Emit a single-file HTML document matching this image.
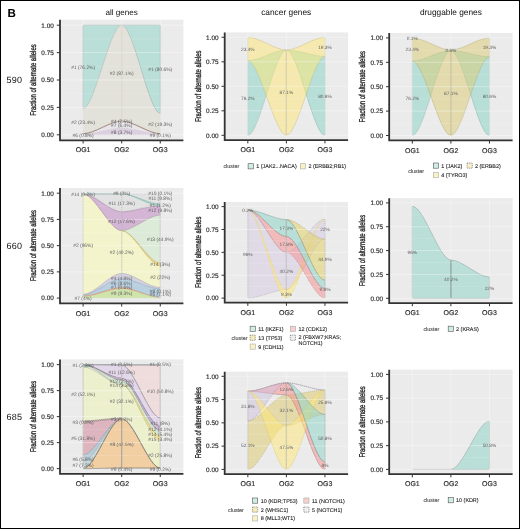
<!DOCTYPE html>
<html><head><meta charset="utf-8"><style>
html,body{margin:0;padding:0;background:#fff;}
svg{display:block;font-family:"Liberation Sans", sans-serif;text-rendering:geometricPrecision;will-change:transform;}
</style></head><body>
<svg width="520" height="529" viewBox="0 0 520 529">
<rect x="0" y="0" width="520" height="529" fill="#fff"/>
<text x="7.5" y="17.1" font-size="11.6" font-weight="bold" fill="#000">B</text>
<text x="121.7" y="14.5" font-size="8.1" text-anchor="middle" fill="#111">all genes</text>
<text x="286.2" y="14.9" font-size="8.35" text-anchor="middle" fill="#111">cancer genes</text>
<text x="450.9" y="14.7" font-size="8.3" text-anchor="middle" fill="#111">druggable genes</text>
<text x="6.4" y="82.85" font-size="9" fill="#111" letter-spacing="0.3">590</text>
<text x="6.4" y="248.8" font-size="9" fill="#111" letter-spacing="0.3">660</text>
<text x="6.4" y="419.6" font-size="9" fill="#111" letter-spacing="0.3">685</text>
<rect x="60" y="19.72" width="123.4" height="120.56" fill="#EBEBEB"/>
<path d="M83.14,25.2 C94.71,25.2 110.13,25.2 121.7,25.2 L121.7,25.2 C110.13,25.2 94.71,108.72 83.14,108.72 Z" fill="#BADFD8" stroke="#7E9A94" stroke-width="0.5"/>
<path d="M121.7,25.2 C133.27,25.2 148.69,25.2 160.26,25.2 L160.26,113.54 C148.69,113.54 133.27,25.2 121.7,25.2 Z" fill="#BADFD8" stroke="#7E9A94" stroke-width="0.5"/>
<path d="M83.14,108.72 C94.71,108.72 110.13,25.2 121.7,25.2 L121.7,120.55 C110.13,120.55 94.71,133.7 83.14,133.7 Z" fill="#E3E2DA" stroke="#C8C6BE" stroke-width="0.4"/>
<path d="M121.7,25.2 C133.27,25.2 148.69,113.54 160.26,113.54 L160.26,133.7 C148.69,133.7 133.27,120.55 121.7,120.55 Z" fill="#E3E2DA" stroke="#C8C6BE" stroke-width="0.4"/>
<path d="M83.14,133.7 C94.71,133.7 110.13,121.1 121.7,121.1 L121.7,128.22 C110.13,128.22 94.71,134.14 83.14,134.14 Z" fill="#E8E5EA"/>
<path d="M121.7,121.1 C133.27,121.1 148.69,133.7 160.26,133.7 L160.26,134.14 C148.69,134.14 133.27,128.22 121.7,128.22 Z" fill="#E8E5EA"/>
<path d="M83.14,134.14 C94.71,134.14 110.13,128.22 121.7,128.22 L121.7,134.8 C110.13,134.8 94.71,134.8 83.14,134.8 Z" fill="#DCD0E0" stroke="#B9A9BD" stroke-width="0.4" stroke-dasharray="1,1"/>
<path d="M121.7,128.22 C133.27,128.22 148.69,134.14 160.26,134.14 L160.26,134.8 C148.69,134.8 133.27,134.8 121.7,134.8 Z" fill="#DCD0E0" stroke="#B9A9BD" stroke-width="0.4" stroke-dasharray="1,1"/>
<path d="M83.14,133.7 C94.71,133.7 110.13,121.1 121.7,121.1" fill="none" stroke="#8E7565" stroke-width="0.8"/>
<path d="M121.7,121.1 C133.27,121.1 148.69,133.7 160.26,133.7" fill="none" stroke="#8E7565" stroke-width="0.8"/>
<line x1="121.7" x2="121.7" y1="134.8" y2="25.2" stroke="#C2C2BC" stroke-width="0.6"/>
<line x1="60" x2="183.4" y1="121.1" y2="121.1" stroke="#FFF" stroke-opacity="0.25" stroke-width="0.5"/>
<line x1="60" x2="183.4" y1="93.7" y2="93.7" stroke="#FFF" stroke-opacity="0.25" stroke-width="0.5"/>
<line x1="60" x2="183.4" y1="66.3" y2="66.3" stroke="#FFF" stroke-opacity="0.25" stroke-width="0.5"/>
<line x1="60" x2="183.4" y1="38.9" y2="38.9" stroke="#FFF" stroke-opacity="0.25" stroke-width="0.5"/>
<line x1="60" x2="183.4" y1="134.8" y2="134.8" stroke="#FFF" stroke-opacity="0.45" stroke-width="0.8"/>
<line x1="60" x2="183.4" y1="107.4" y2="107.4" stroke="#FFF" stroke-opacity="0.45" stroke-width="0.8"/>
<line x1="60" x2="183.4" y1="80" y2="80" stroke="#FFF" stroke-opacity="0.45" stroke-width="0.8"/>
<line x1="60" x2="183.4" y1="52.6" y2="52.6" stroke="#FFF" stroke-opacity="0.45" stroke-width="0.8"/>
<line x1="60" x2="183.4" y1="25.2" y2="25.2" stroke="#FFF" stroke-opacity="0.45" stroke-width="0.8"/>
<line x1="83.14" x2="83.14" y1="19.72" y2="140.28" stroke="#FFF" stroke-opacity="0.45" stroke-width="0.8"/>
<line x1="121.7" x2="121.7" y1="19.72" y2="140.28" stroke="#FFF" stroke-opacity="0.45" stroke-width="0.8"/>
<line x1="160.26" x2="160.26" y1="19.72" y2="140.28" stroke="#FFF" stroke-opacity="0.45" stroke-width="0.8"/>
<text x="83.14" y="68.61" font-size="4.9" text-anchor="middle" fill="#616161">#1 (76.2%)</text>
<text x="83.14" y="123.96" font-size="4.9" text-anchor="middle" fill="#616161">#2 (23.4%)</text>
<text x="83.14" y="136.56" font-size="4.9" text-anchor="middle" fill="#616161">#6 (0.8%)</text>
<text x="121.7" y="74.64" font-size="4.9" text-anchor="middle" fill="#616161">#2 (87.1%)</text>
<text x="121.7" y="122.86" font-size="4.9" text-anchor="middle" fill="#616161">#4 (2.5%)</text>
<text x="121.7" y="127.25" font-size="4.9" text-anchor="middle" fill="#616161">#7 (6.4%)</text>
<text x="121.7" y="133.82" font-size="4.9" text-anchor="middle" fill="#616161">#8 (3.7%)</text>
<text x="160.26" y="71.35" font-size="4.9" text-anchor="middle" fill="#616161">#1 (80.6%)</text>
<text x="160.26" y="125.93" font-size="4.9" text-anchor="middle" fill="#616161">#2 (19.3%)</text>
<text x="160.26" y="136.56" font-size="4.9" text-anchor="middle" fill="#616161">#9 (0.1%)</text>
<path d="M60,19.72 V140.28 H183.4" fill="none" stroke="#333" stroke-width="1.8"/>
<line x1="56.8" x2="60" y1="134.8" y2="134.8" stroke="#333" stroke-width="1"/>
<text x="53.8" y="137.1" font-size="6.4" text-anchor="end" fill="#333" stroke="#333" stroke-width="0.18">0.00</text>
<line x1="56.8" x2="60" y1="107.4" y2="107.4" stroke="#333" stroke-width="1"/>
<text x="53.8" y="109.7" font-size="6.4" text-anchor="end" fill="#333" stroke="#333" stroke-width="0.18">0.25</text>
<line x1="56.8" x2="60" y1="80" y2="80" stroke="#333" stroke-width="1"/>
<text x="53.8" y="82.3" font-size="6.4" text-anchor="end" fill="#333" stroke="#333" stroke-width="0.18">0.50</text>
<line x1="56.8" x2="60" y1="52.6" y2="52.6" stroke="#333" stroke-width="1"/>
<text x="53.8" y="54.9" font-size="6.4" text-anchor="end" fill="#333" stroke="#333" stroke-width="0.18">0.75</text>
<line x1="56.8" x2="60" y1="25.2" y2="25.2" stroke="#333" stroke-width="1"/>
<text x="53.8" y="27.5" font-size="6.4" text-anchor="end" fill="#333" stroke="#333" stroke-width="0.18">1.00</text>
<line x1="83.14" x2="83.14" y1="140.28" y2="143.48" stroke="#333" stroke-width="1"/>
<text x="83.14" y="152.48" font-size="7" text-anchor="middle" fill="#2A2A2A" stroke="#2A2A2A" stroke-width="0.15">OG1</text>
<line x1="121.7" x2="121.7" y1="140.28" y2="143.48" stroke="#333" stroke-width="1"/>
<text x="121.7" y="152.48" font-size="7" text-anchor="middle" fill="#2A2A2A" stroke="#2A2A2A" stroke-width="0.15">OG2</text>
<line x1="160.26" x2="160.26" y1="140.28" y2="143.48" stroke="#333" stroke-width="1"/>
<text x="160.26" y="152.48" font-size="7" text-anchor="middle" fill="#2A2A2A" stroke="#2A2A2A" stroke-width="0.15">OG3</text>
<text transform="translate(35.9,80) rotate(-90) scale(0.70,1)" font-size="8.5" text-anchor="middle" fill="#1A1A1A" stroke="#1A1A1A" stroke-width="0.3">Fraction of alternate alleles</text>
<rect x="60" y="187.95" width="123.4" height="115.39" fill="#EBEBEB"/>
<path d="M83.14,194.04 C94.71,194.04 110.13,230.65 121.7,230.65 L121.7,273.45 C110.13,273.45 94.71,294.43 83.14,294.43 Z" fill="#F3F4CB" stroke="#C9C7A0" stroke-width="0.4"/>
<path d="M121.7,230.65 C133.27,230.65 148.69,265.58 160.26,265.58 L160.26,287.61 C148.69,287.61 133.27,273.45 121.7,273.45 Z" fill="#F3F4CB" stroke="#C9C7A0" stroke-width="0.4"/>
<path d="M83.14,194.04 C94.71,194.04 110.13,194.04 121.7,194.04 L121.7,211.87 C110.13,211.87 94.71,194.04 83.14,194.04 Z" fill="#E2E2E2" stroke="#A8A8A8" stroke-width="0.4" stroke-dasharray="1.2,0.8"/>
<path d="M121.7,194.04 C133.27,194.04 148.69,193.72 160.26,193.72 L160.26,204 C148.69,204 133.27,211.87 121.7,211.87 Z" fill="#E2E2E2" stroke="#A8A8A8" stroke-width="0.4" stroke-dasharray="1.2,0.8"/>
<path d="M83.14,194.04 C94.71,194.04 110.13,211.87 121.7,211.87 L121.7,230.65 C110.13,230.65 94.71,194.04 83.14,194.04 Z" fill="#D4B5D5" stroke="#8F7490" stroke-width="0.4"/>
<path d="M121.7,211.87 C133.27,211.87 148.69,205.79 160.26,205.79 L160.26,215.23 C148.69,215.23 133.27,230.65 121.7,230.65 Z" fill="#D4B5D5" stroke="#8F7490" stroke-width="0.4"/>
<path d="M121.7,230.65 C133.27,230.65 148.69,215.23 160.26,215.23 L160.26,262.96 C148.69,262.96 133.27,230.65 121.7,230.65 Z" fill="#DCEBD8" stroke="#A9B8A5" stroke-width="0.4"/>
<path d="M121.7,230.65 C133.27,230.65 148.69,262.96 160.26,262.96 L160.26,265.58 C148.69,265.58 133.27,230.65 121.7,230.65 Z" fill="#EBD58A" stroke="#C8B060" stroke-width="0.4"/>
<path d="M83.14,193.72 C94.71,193.72 110.13,193.72 121.7,193.72 L121.7,193.93 C110.13,193.93 94.71,193.93 83.14,193.93 Z" fill="#A8D5CC" stroke="#7FA9A1" stroke-width="0.4"/>
<path d="M121.7,193.72 C133.27,193.72 148.69,204 160.26,204 L160.26,205.79 C148.69,205.79 133.27,193.93 121.7,193.93 Z" fill="#A8D5CC" stroke="#7FA9A1" stroke-width="0.4"/>
<path d="M83.14,294.43 C94.71,294.43 110.13,273.45 121.7,273.45 L121.7,278.8 C110.13,278.8 94.71,294.95 83.14,294.95 Z" fill="#D4D2E2" stroke="#A09CB5" stroke-width="0.4"/>
<path d="M121.7,273.45 C133.27,273.45 148.69,287.61 160.26,287.61 L160.26,288.97 C148.69,288.97 133.27,278.8 121.7,278.8 Z" fill="#D4D2E2" stroke="#A09CB5" stroke-width="0.4"/>
<path d="M83.14,294.95 C94.71,294.95 110.13,278.8 121.7,278.8 L121.7,287.61 C110.13,287.61 94.71,296 83.14,296 Z" fill="#B8D0E0" stroke="#8CA6B8" stroke-width="0.4"/>
<path d="M121.7,278.8 C133.27,278.8 148.69,288.97 160.26,288.97 L160.26,297.47 C148.69,297.47 133.27,287.61 121.7,287.61 Z" fill="#B8D0E0" stroke="#8CA6B8" stroke-width="0.4"/>
<path d="M83.14,296 C94.71,296 110.13,287.61 121.7,287.61 L121.7,288.66 C110.13,288.66 94.71,296.53 83.14,296.53 Z" fill="#F0B79E" stroke="#D09070" stroke-width="0.4"/>
<path d="M121.7,287.61 C133.27,287.61 148.69,297.47 160.26,297.47 L160.26,297.58 C148.69,297.58 133.27,288.66 121.7,288.66 Z" fill="#F0B79E" stroke="#D09070" stroke-width="0.4"/>
<path d="M83.14,296.53 C94.71,296.53 110.13,288.66 121.7,288.66 L121.7,298.1 C110.13,298.1 94.71,298.1 83.14,298.1 Z" fill="#CFE4AA" stroke="#9FB97A" stroke-width="0.4" stroke-dasharray="1,1"/>
<path d="M121.7,288.66 C133.27,288.66 148.69,297.58 160.26,297.58 L160.26,298.1 C148.69,298.1 133.27,298.1 121.7,298.1 Z" fill="#CFE4AA" stroke="#9FB97A" stroke-width="0.4" stroke-dasharray="1,1"/>
<line x1="121.7" x2="121.7" y1="298.1" y2="193.72" stroke="#9A9A9A" stroke-width="0.5" stroke-dasharray="1.5,1"/>
<line x1="160.26" x2="160.26" y1="298.1" y2="193.72" stroke="#9A9A9A" stroke-width="0.5" stroke-dasharray="1.5,1"/>
<line x1="83.14" x2="83.14" y1="298.1" y2="194.04" stroke="#BBBB99" stroke-width="0.5" stroke-dasharray="1.5,1"/>
<line x1="60" x2="183.4" y1="284.99" y2="284.99" stroke="#FFF" stroke-opacity="0.25" stroke-width="0.5"/>
<line x1="60" x2="183.4" y1="258.76" y2="258.76" stroke="#FFF" stroke-opacity="0.25" stroke-width="0.5"/>
<line x1="60" x2="183.4" y1="232.54" y2="232.54" stroke="#FFF" stroke-opacity="0.25" stroke-width="0.5"/>
<line x1="60" x2="183.4" y1="206.31" y2="206.31" stroke="#FFF" stroke-opacity="0.25" stroke-width="0.5"/>
<line x1="60" x2="183.4" y1="298.1" y2="298.1" stroke="#FFF" stroke-opacity="0.45" stroke-width="0.8"/>
<line x1="60" x2="183.4" y1="271.88" y2="271.88" stroke="#FFF" stroke-opacity="0.45" stroke-width="0.8"/>
<line x1="60" x2="183.4" y1="245.65" y2="245.65" stroke="#FFF" stroke-opacity="0.45" stroke-width="0.8"/>
<line x1="60" x2="183.4" y1="219.43" y2="219.43" stroke="#FFF" stroke-opacity="0.45" stroke-width="0.8"/>
<line x1="60" x2="183.4" y1="193.2" y2="193.2" stroke="#FFF" stroke-opacity="0.45" stroke-width="0.8"/>
<line x1="83.14" x2="83.14" y1="187.95" y2="303.35" stroke="#FFF" stroke-opacity="0.45" stroke-width="0.8"/>
<line x1="121.7" x2="121.7" y1="187.95" y2="303.35" stroke="#FFF" stroke-opacity="0.45" stroke-width="0.8"/>
<line x1="160.26" x2="160.26" y1="187.95" y2="303.35" stroke="#FFF" stroke-opacity="0.45" stroke-width="0.8"/>
<text x="83.14" y="195.8" font-size="4.9" text-anchor="middle" fill="#616161">#14 (0.2%)</text>
<text x="83.14" y="246.68" font-size="4.9" text-anchor="middle" fill="#616161">#2 (96%)</text>
<text x="83.14" y="299.86" font-size="4.9" text-anchor="middle" fill="#616161">#7 (4%)</text>
<text x="121.7" y="195.17" font-size="4.9" text-anchor="middle" fill="#616161">#9 (0%)</text>
<text x="121.7" y="205.45" font-size="4.9" text-anchor="middle" fill="#616161">#11 (17.3%)</text>
<text x="121.7" y="223.29" font-size="4.9" text-anchor="middle" fill="#616161">#12 (17.6%)</text>
<text x="121.7" y="253.71" font-size="4.9" text-anchor="middle" fill="#616161">#2 (40.2%)</text>
<text x="121.7" y="279.93" font-size="4.9" text-anchor="middle" fill="#616161">#4 (4.9%)</text>
<text x="121.7" y="284.55" font-size="4.9" text-anchor="middle" fill="#616161">#6 (8.6%)</text>
<text x="121.7" y="289.37" font-size="4.9" text-anchor="middle" fill="#616161">#7 (0.6%)</text>
<text x="121.7" y="295.14" font-size="4.9" text-anchor="middle" fill="#616161">#9 (9.3%)</text>
<text x="160.26" y="194.75" font-size="4.9" text-anchor="middle" fill="#616161">#10 (0.1%)</text>
<text x="160.26" y="200" font-size="4.9" text-anchor="middle" fill="#616161">#11 (9.8%)</text>
<text x="160.26" y="206.5" font-size="4.9" text-anchor="middle" fill="#616161">#1 (1.2%)</text>
<text x="160.26" y="212.48" font-size="4.9" text-anchor="middle" fill="#616161">#12 (9.8%)</text>
<text x="160.26" y="241.02" font-size="4.9" text-anchor="middle" fill="#616161">#13 (44.9%)</text>
<text x="160.26" y="266.3" font-size="4.9" text-anchor="middle" fill="#616161">#14 (3%)</text>
<text x="160.26" y="279.2" font-size="4.9" text-anchor="middle" fill="#616161">#2 (22%)</text>
<text x="160.26" y="292.52" font-size="4.9" text-anchor="middle" fill="#616161">#8 (0.1%)</text>
<text x="160.26" y="296.4" font-size="4.9" text-anchor="middle" fill="#616161">#6 (7.1%)</text>
<path d="M60,187.95 V303.35 H183.4" fill="none" stroke="#333" stroke-width="1.8"/>
<line x1="56.8" x2="60" y1="298.1" y2="298.1" stroke="#333" stroke-width="1"/>
<text x="53.8" y="300.4" font-size="6.4" text-anchor="end" fill="#333" stroke="#333" stroke-width="0.18">0.00</text>
<line x1="56.8" x2="60" y1="271.88" y2="271.88" stroke="#333" stroke-width="1"/>
<text x="53.8" y="274.18" font-size="6.4" text-anchor="end" fill="#333" stroke="#333" stroke-width="0.18">0.25</text>
<line x1="56.8" x2="60" y1="245.65" y2="245.65" stroke="#333" stroke-width="1"/>
<text x="53.8" y="247.95" font-size="6.4" text-anchor="end" fill="#333" stroke="#333" stroke-width="0.18">0.50</text>
<line x1="56.8" x2="60" y1="219.43" y2="219.43" stroke="#333" stroke-width="1"/>
<text x="53.8" y="221.73" font-size="6.4" text-anchor="end" fill="#333" stroke="#333" stroke-width="0.18">0.75</text>
<line x1="56.8" x2="60" y1="193.2" y2="193.2" stroke="#333" stroke-width="1"/>
<text x="53.8" y="195.5" font-size="6.4" text-anchor="end" fill="#333" stroke="#333" stroke-width="0.18">1.00</text>
<line x1="83.14" x2="83.14" y1="303.35" y2="306.55" stroke="#333" stroke-width="1"/>
<text x="83.14" y="315.55" font-size="7" text-anchor="middle" fill="#2A2A2A" stroke="#2A2A2A" stroke-width="0.15">OG1</text>
<line x1="121.7" x2="121.7" y1="303.35" y2="306.55" stroke="#333" stroke-width="1"/>
<text x="121.7" y="315.55" font-size="7" text-anchor="middle" fill="#2A2A2A" stroke="#2A2A2A" stroke-width="0.15">OG2</text>
<line x1="160.26" x2="160.26" y1="303.35" y2="306.55" stroke="#333" stroke-width="1"/>
<text x="160.26" y="315.55" font-size="7" text-anchor="middle" fill="#2A2A2A" stroke="#2A2A2A" stroke-width="0.15">OG3</text>
<text transform="translate(35.9,245.65) rotate(-90) scale(0.70,1)" font-size="8.5" text-anchor="middle" fill="#1A1A1A" stroke="#1A1A1A" stroke-width="0.3">Fraction of alternate alleles</text>
<rect x="60" y="359.4" width="123.4" height="114.4" fill="#EBEBEB"/>
<path d="M83.14,366.78 C94.71,366.78 110.13,384.67 121.7,384.67 L121.7,418.06 C110.13,418.06 94.71,420.97 83.14,420.97 Z" fill="#EDF0CD" stroke="#9A9C80" stroke-width="0.4"/>
<path d="M121.7,384.67 C133.27,384.67 148.69,439.69 160.26,439.69 L160.26,467.98 C148.69,467.98 133.27,418.06 121.7,418.06 Z" fill="#EDF0CD" stroke="#9A9C80" stroke-width="0.4"/>
<path d="M83.14,364.6 C94.71,364.6 110.13,364.6 121.7,364.6 L121.7,365.12 C110.13,365.12 94.71,366.99 83.14,366.99 Z" fill="#A8D5CC" stroke="#6F958E" stroke-width="0.3"/>
<path d="M121.7,365.12 C133.27,365.12 148.69,365.12 160.26,365.12 L160.26,417.95 C148.69,417.95 133.27,365.12 121.7,365.12 Z" fill="#EEDDDC" stroke="#7E7478" stroke-width="0.45"/>
<path d="M83.14,364.6 C94.71,364.6 110.13,365.12 121.7,365.12 L121.7,378.22 C110.13,378.22 94.71,364.6 83.14,364.6 Z" fill="#E2D7E8" stroke="#7E7085" stroke-width="0.45"/>
<path d="M121.7,365.12 C133.27,365.12 148.69,417.95 160.26,417.95 L160.26,426.27 C148.69,426.27 133.27,378.22 121.7,378.22 Z" fill="#E2D7E8" stroke="#7E7085" stroke-width="0.45"/>
<path d="M83.14,364.6 C94.71,364.6 110.13,378.22 121.7,378.22 L121.7,380.2 C110.13,380.2 94.71,364.6 83.14,364.6 Z" fill="#CDB8D6" stroke="#6E5F76" stroke-width="0.4"/>
<path d="M121.7,378.22 C133.27,378.22 148.69,426.27 160.26,426.27 L160.26,430.54 C148.69,430.54 133.27,380.2 121.7,380.2 Z" fill="#CDB8D6" stroke="#6E5F76" stroke-width="0.4"/>
<path d="M83.14,364.6 C94.71,364.6 110.13,380.2 121.7,380.2 L121.7,384.67 C110.13,384.67 94.71,364.6 83.14,364.6 Z" fill="#D5E6D0" stroke="#7E8A7A" stroke-width="0.4"/>
<path d="M121.7,380.2 C133.27,380.2 148.69,430.54 160.26,430.54 L160.26,436.15 C148.69,436.15 133.27,384.67 121.7,384.67 Z" fill="#D5E6D0" stroke="#7E8A7A" stroke-width="0.4"/>
<path d="M121.7,384.67 C133.27,384.67 148.69,436.15 160.26,436.15 L160.26,439.69 C148.69,439.69 133.27,384.67 121.7,384.67 Z" fill="#F3E49A" stroke="#D8C060" stroke-width="0.4"/>
<path d="M83.14,421.9 C94.71,421.9 110.13,418.78 121.7,418.78 L121.7,418.78 C110.13,418.78 94.71,454.98 83.14,454.98 Z" fill="#DDB5BE" stroke="#A08088" stroke-width="0.4"/>
<path d="M83.14,454.98 C94.71,454.98 110.13,418.78 121.7,418.78" fill="none" stroke="#8E7078" stroke-width="0.45" stroke-dasharray="1.2,0.8"/>
<path d="M83.14,454.98 C94.71,454.98 110.13,418.78 121.7,418.78 L121.7,418.78 C110.13,418.78 94.71,461.01 83.14,461.01 Z" fill="#B9CDD6" stroke="#8AA0AA" stroke-width="0.4"/>
<path d="M83.14,461.01 C94.71,461.01 110.13,418.78 121.7,418.78 L121.7,418.78 C110.13,418.78 94.71,468.6 83.14,468.6 Z" fill="#C5D7DB" stroke="#8AA0AA" stroke-width="0.4"/>
<path d="M83.14,468.6 C94.71,468.6 110.13,418.78 121.7,418.78 L121.7,468.18 C110.13,468.18 94.71,468.6 83.14,468.6 Z" fill="#F2CFA2" stroke="#4A4A4A" stroke-width="0.6"/>
<path d="M121.7,418.78 C133.27,418.78 148.69,468.18 160.26,468.18 L160.26,468.18 C148.69,468.18 133.27,468.18 121.7,468.18 Z" fill="#F2CFA2" stroke="#4A4A4A" stroke-width="0.6"/>
<path d="M83.14,420.97 C94.71,420.97 110.13,418.06 121.7,418.06 L121.7,418.78 C110.13,418.78 94.71,421.9 83.14,421.9 Z" fill="#C8B0B8" stroke="#6A5A60" stroke-width="0.4" stroke-dasharray="1,1"/>
<line x1="83.14" x2="160.26" y1="364.6" y2="364.6" stroke="#5E6E6A" stroke-width="0.7"/>
<line x1="121.7" x2="121.7" y1="468.6" y2="364.6" stroke="#B4B4B4" stroke-width="0.5" stroke-dasharray="1.5,1"/>
<line x1="83.14" x2="83.14" y1="468.6" y2="366.78" stroke="#A8A890" stroke-width="0.5" stroke-dasharray="1.5,1"/>
<line x1="160.26" x2="160.26" y1="468.6" y2="365.12" stroke="#A8A8A8" stroke-width="0.5" stroke-dasharray="1.5,1"/>
<path d="M83.14,468.6 C94.71,468.6 110.13,468.18 121.7,468.18" fill="none" stroke="#777" stroke-width="0.5" stroke-dasharray="1,1"/>
<path d="M121.7,468.18 C133.27,468.18 148.69,468.18 160.26,468.18" fill="none" stroke="#777" stroke-width="0.5" stroke-dasharray="1,1"/>
<line x1="60" x2="183.4" y1="455.6" y2="455.6" stroke="#FFF" stroke-opacity="0.25" stroke-width="0.5"/>
<line x1="60" x2="183.4" y1="429.6" y2="429.6" stroke="#FFF" stroke-opacity="0.25" stroke-width="0.5"/>
<line x1="60" x2="183.4" y1="403.6" y2="403.6" stroke="#FFF" stroke-opacity="0.25" stroke-width="0.5"/>
<line x1="60" x2="183.4" y1="377.6" y2="377.6" stroke="#FFF" stroke-opacity="0.25" stroke-width="0.5"/>
<line x1="60" x2="183.4" y1="468.6" y2="468.6" stroke="#FFF" stroke-opacity="0.45" stroke-width="0.8"/>
<line x1="60" x2="183.4" y1="442.6" y2="442.6" stroke="#FFF" stroke-opacity="0.45" stroke-width="0.8"/>
<line x1="60" x2="183.4" y1="416.6" y2="416.6" stroke="#FFF" stroke-opacity="0.45" stroke-width="0.8"/>
<line x1="60" x2="183.4" y1="390.6" y2="390.6" stroke="#FFF" stroke-opacity="0.45" stroke-width="0.8"/>
<line x1="60" x2="183.4" y1="364.6" y2="364.6" stroke="#FFF" stroke-opacity="0.45" stroke-width="0.8"/>
<line x1="83.14" x2="83.14" y1="359.4" y2="473.8" stroke="#FFF" stroke-opacity="0.45" stroke-width="0.8"/>
<line x1="121.7" x2="121.7" y1="359.4" y2="473.8" stroke="#FFF" stroke-opacity="0.45" stroke-width="0.8"/>
<line x1="160.26" x2="160.26" y1="359.4" y2="473.8" stroke="#FFF" stroke-opacity="0.45" stroke-width="0.8"/>
<text x="83.14" y="367.4" font-size="4.9" text-anchor="middle" fill="#616161">#1 (2.3%)</text>
<text x="83.14" y="396.42" font-size="4.9" text-anchor="middle" fill="#616161">#2 (52.1%)</text>
<text x="83.14" y="424.08" font-size="4.9" text-anchor="middle" fill="#616161">#3 (0.9%)</text>
<text x="83.14" y="440.41" font-size="4.9" text-anchor="middle" fill="#616161">#5 (31.8%)</text>
<text x="83.14" y="460.8" font-size="4.9" text-anchor="middle" fill="#616161">#6 (5.8%)</text>
<text x="83.14" y="467.24" font-size="4.9" text-anchor="middle" fill="#616161">#7 (7.3%)</text>
<text x="121.7" y="366.36" font-size="4.9" text-anchor="middle" fill="#616161">#1 (0.5%)</text>
<text x="121.7" y="373.64" font-size="4.9" text-anchor="middle" fill="#616161">#11 (12.6%)</text>
<text x="121.7" y="383" font-size="4.9" text-anchor="middle" fill="#616161">#12 (2.7%)</text>
<text x="121.7" y="387.16" font-size="4.9" text-anchor="middle" fill="#616161">#14 (3.3%)</text>
<text x="121.7" y="403.08" font-size="4.9" text-anchor="middle" fill="#616161">#2 (32.1%)</text>
<text x="121.7" y="420.55" font-size="4.9" text-anchor="middle" fill="#616161">#3 (0.7%)</text>
<text x="121.7" y="445.72" font-size="4.9" text-anchor="middle" fill="#616161">#8 (47.5%)</text>
<text x="121.7" y="471.2" font-size="4.9" text-anchor="middle" fill="#616161">#9 (0.4%)</text>
<text x="160.26" y="366.36" font-size="4.9" text-anchor="middle" fill="#616161">#1 (0.5%)</text>
<text x="160.26" y="393.3" font-size="4.9" text-anchor="middle" fill="#616161">#10 (50.8%)</text>
<text x="160.26" y="424.6" font-size="4.9" text-anchor="middle" fill="#616161">#11 (8%)</text>
<text x="160.26" y="431.05" font-size="4.9" text-anchor="middle" fill="#616161">#12 (4.1%)</text>
<text x="160.26" y="436.25" font-size="4.9" text-anchor="middle" fill="#616161">#14 (5.4%)</text>
<text x="160.26" y="441.45" font-size="4.9" text-anchor="middle" fill="#616161">#15 (3.4%)</text>
<text x="160.26" y="456.95" font-size="4.9" text-anchor="middle" fill="#616161">#2 (25.8%)</text>
<text x="160.26" y="471.2" font-size="4.9" text-anchor="middle" fill="#616161">#9 (0.2%)</text>
<path d="M60,359.4 V473.8 H183.4" fill="none" stroke="#333" stroke-width="1.8"/>
<line x1="56.8" x2="60" y1="468.6" y2="468.6" stroke="#333" stroke-width="1"/>
<text x="53.8" y="470.9" font-size="6.4" text-anchor="end" fill="#333" stroke="#333" stroke-width="0.18">0.00</text>
<line x1="56.8" x2="60" y1="442.6" y2="442.6" stroke="#333" stroke-width="1"/>
<text x="53.8" y="444.9" font-size="6.4" text-anchor="end" fill="#333" stroke="#333" stroke-width="0.18">0.25</text>
<line x1="56.8" x2="60" y1="416.6" y2="416.6" stroke="#333" stroke-width="1"/>
<text x="53.8" y="418.9" font-size="6.4" text-anchor="end" fill="#333" stroke="#333" stroke-width="0.18">0.50</text>
<line x1="56.8" x2="60" y1="390.6" y2="390.6" stroke="#333" stroke-width="1"/>
<text x="53.8" y="392.9" font-size="6.4" text-anchor="end" fill="#333" stroke="#333" stroke-width="0.18">0.75</text>
<line x1="56.8" x2="60" y1="364.6" y2="364.6" stroke="#333" stroke-width="1"/>
<text x="53.8" y="366.9" font-size="6.4" text-anchor="end" fill="#333" stroke="#333" stroke-width="0.18">1.00</text>
<line x1="83.14" x2="83.14" y1="473.8" y2="477" stroke="#333" stroke-width="1"/>
<text x="83.14" y="486" font-size="7" text-anchor="middle" fill="#2A2A2A" stroke="#2A2A2A" stroke-width="0.15">OG1</text>
<line x1="121.7" x2="121.7" y1="473.8" y2="477" stroke="#333" stroke-width="1"/>
<text x="121.7" y="486" font-size="7" text-anchor="middle" fill="#2A2A2A" stroke="#2A2A2A" stroke-width="0.15">OG2</text>
<line x1="160.26" x2="160.26" y1="473.8" y2="477" stroke="#333" stroke-width="1"/>
<text x="160.26" y="486" font-size="7" text-anchor="middle" fill="#2A2A2A" stroke="#2A2A2A" stroke-width="0.15">OG3</text>
<text transform="translate(35.9,416.6) rotate(-90) scale(0.70,1)" font-size="8.5" text-anchor="middle" fill="#1A1A1A" stroke="#1A1A1A" stroke-width="0.3">Fraction of alternate alleles</text>
<rect x="224.7" y="32.4" width="123.4" height="107.8" fill="#EBEBEB"/>
<path d="M247.84,60.62 C259.41,60.62 274.83,49.94 286.4,49.94 L286.4,49.94 C274.83,49.94 259.41,135.3 247.84,135.3 Z" fill="#8DD3C7" fill-opacity="0.55" stroke="#86AFA8" stroke-width="0.4"/>
<path d="M286.4,49.94 C297.97,49.94 313.39,56.31 324.96,56.31 L324.96,135.3 C313.39,135.3 297.97,49.94 286.4,49.94 Z" fill="#8DD3C7" fill-opacity="0.55" stroke="#86AFA8" stroke-width="0.4"/>
<path d="M247.84,37.3 C259.41,37.3 274.83,49.94 286.4,49.94 L286.4,135.3 C274.83,135.3 259.41,60.62 247.84,60.62 Z" fill="#FFE873" fill-opacity="0.5" stroke="#C2B77C" stroke-width="0.4"/>
<path d="M286.4,49.94 C297.97,49.94 313.39,37.3 324.96,37.3 L324.96,56.31 C313.39,56.31 297.97,135.3 286.4,135.3 Z" fill="#FFE873" fill-opacity="0.5" stroke="#C2B77C" stroke-width="0.4"/>
<line x1="286.4" x2="286.4" y1="135.3" y2="49.94" stroke="#B0AA88" stroke-width="0.5"/>
<line x1="224.7" x2="348.1" y1="123.05" y2="123.05" stroke="#FFF" stroke-opacity="0.25" stroke-width="0.5"/>
<line x1="224.7" x2="348.1" y1="98.55" y2="98.55" stroke="#FFF" stroke-opacity="0.25" stroke-width="0.5"/>
<line x1="224.7" x2="348.1" y1="74.05" y2="74.05" stroke="#FFF" stroke-opacity="0.25" stroke-width="0.5"/>
<line x1="224.7" x2="348.1" y1="49.55" y2="49.55" stroke="#FFF" stroke-opacity="0.25" stroke-width="0.5"/>
<line x1="224.7" x2="348.1" y1="135.3" y2="135.3" stroke="#FFF" stroke-opacity="0.45" stroke-width="0.8"/>
<line x1="224.7" x2="348.1" y1="110.8" y2="110.8" stroke="#FFF" stroke-opacity="0.45" stroke-width="0.8"/>
<line x1="224.7" x2="348.1" y1="86.3" y2="86.3" stroke="#FFF" stroke-opacity="0.45" stroke-width="0.8"/>
<line x1="224.7" x2="348.1" y1="61.8" y2="61.8" stroke="#FFF" stroke-opacity="0.45" stroke-width="0.8"/>
<line x1="224.7" x2="348.1" y1="37.3" y2="37.3" stroke="#FFF" stroke-opacity="0.45" stroke-width="0.8"/>
<line x1="247.84" x2="247.84" y1="32.4" y2="140.2" stroke="#FFF" stroke-opacity="0.45" stroke-width="0.8"/>
<line x1="286.4" x2="286.4" y1="32.4" y2="140.2" stroke="#FFF" stroke-opacity="0.45" stroke-width="0.8"/>
<line x1="324.96" x2="324.96" y1="32.4" y2="140.2" stroke="#FFF" stroke-opacity="0.45" stroke-width="0.8"/>
<text x="247.84" y="50.79" font-size="4.8" text-anchor="middle" fill="#626262">23.4%</text>
<text x="247.84" y="99.69" font-size="4.8" text-anchor="middle" fill="#626262">76.2%</text>
<text x="286.4" y="94.4" font-size="4.8" text-anchor="middle" fill="#626262">87.1%</text>
<text x="324.96" y="48.53" font-size="4.8" text-anchor="middle" fill="#626262">19.3%</text>
<text x="324.96" y="97.53" font-size="4.8" text-anchor="middle" fill="#626262">80.6%</text>
<path d="M224.7,32.4 V140.2 H348.1" fill="none" stroke="#333" stroke-width="1.8"/>
<line x1="221.5" x2="224.7" y1="135.3" y2="135.3" stroke="#333" stroke-width="1"/>
<text x="218.5" y="137.6" font-size="6.4" text-anchor="end" fill="#333" stroke="#333" stroke-width="0.18">0.00</text>
<line x1="221.5" x2="224.7" y1="110.8" y2="110.8" stroke="#333" stroke-width="1"/>
<text x="218.5" y="113.1" font-size="6.4" text-anchor="end" fill="#333" stroke="#333" stroke-width="0.18">0.25</text>
<line x1="221.5" x2="224.7" y1="86.3" y2="86.3" stroke="#333" stroke-width="1"/>
<text x="218.5" y="88.6" font-size="6.4" text-anchor="end" fill="#333" stroke="#333" stroke-width="0.18">0.50</text>
<line x1="221.5" x2="224.7" y1="61.8" y2="61.8" stroke="#333" stroke-width="1"/>
<text x="218.5" y="64.1" font-size="6.4" text-anchor="end" fill="#333" stroke="#333" stroke-width="0.18">0.75</text>
<line x1="221.5" x2="224.7" y1="37.3" y2="37.3" stroke="#333" stroke-width="1"/>
<text x="218.5" y="39.6" font-size="6.4" text-anchor="end" fill="#333" stroke="#333" stroke-width="0.18">1.00</text>
<line x1="247.84" x2="247.84" y1="140.2" y2="143.4" stroke="#333" stroke-width="1"/>
<text x="247.84" y="152.4" font-size="7" text-anchor="middle" fill="#2A2A2A" stroke="#2A2A2A" stroke-width="0.15">OG1</text>
<line x1="286.4" x2="286.4" y1="140.2" y2="143.4" stroke="#333" stroke-width="1"/>
<text x="286.4" y="152.4" font-size="7" text-anchor="middle" fill="#2A2A2A" stroke="#2A2A2A" stroke-width="0.15">OG2</text>
<line x1="324.96" x2="324.96" y1="140.2" y2="143.4" stroke="#333" stroke-width="1"/>
<text x="324.96" y="152.4" font-size="7" text-anchor="middle" fill="#2A2A2A" stroke="#2A2A2A" stroke-width="0.15">OG3</text>
<text transform="translate(200.6,86.3) rotate(-90) scale(0.70,1)" font-size="8.5" text-anchor="middle" fill="#1A1A1A" stroke="#1A1A1A" stroke-width="0.3">Fraction of alternate alleles</text>
<rect x="389.2" y="33.02" width="123.4" height="107.36" fill="#EBEBEB"/>
<path d="M412.34,61.13 C423.91,61.13 439.33,50.49 450.9,50.49 L450.9,50.49 C439.33,50.49 423.91,135.5 412.34,135.5 Z" fill="#8DD3C7" fill-opacity="0.55" stroke="#86AFA8" stroke-width="0.4"/>
<path d="M450.9,50.49 C462.47,50.49 477.89,56.83 489.46,56.83 L489.46,135.5 C477.89,135.5 462.47,50.49 450.9,50.49 Z" fill="#8DD3C7" fill-opacity="0.55" stroke="#86AFA8" stroke-width="0.4"/>
<path d="M412.34,37.9 C423.91,37.9 439.33,50.1 450.9,50.1 L450.9,135.5 C439.33,135.5 423.91,61.13 412.34,61.13 Z" fill="#DCCB72" fill-opacity="0.5" stroke="#B0A670" stroke-width="0.4"/>
<path d="M450.9,50.1 C462.47,50.1 477.89,37.9 489.46,37.9 L489.46,56.83 C477.89,56.83 462.47,135.5 450.9,135.5 Z" fill="#DCCB72" fill-opacity="0.5" stroke="#B0A670" stroke-width="0.4"/>
<line x1="450.9" x2="450.9" y1="135.5" y2="50.1" stroke="#B0AA88" stroke-width="0.5"/>
<line x1="389.2" x2="512.6" y1="123.3" y2="123.3" stroke="#FFF" stroke-opacity="0.25" stroke-width="0.5"/>
<line x1="389.2" x2="512.6" y1="98.9" y2="98.9" stroke="#FFF" stroke-opacity="0.25" stroke-width="0.5"/>
<line x1="389.2" x2="512.6" y1="74.5" y2="74.5" stroke="#FFF" stroke-opacity="0.25" stroke-width="0.5"/>
<line x1="389.2" x2="512.6" y1="50.1" y2="50.1" stroke="#FFF" stroke-opacity="0.25" stroke-width="0.5"/>
<line x1="389.2" x2="512.6" y1="135.5" y2="135.5" stroke="#FFF" stroke-opacity="0.45" stroke-width="0.8"/>
<line x1="389.2" x2="512.6" y1="111.1" y2="111.1" stroke="#FFF" stroke-opacity="0.45" stroke-width="0.8"/>
<line x1="389.2" x2="512.6" y1="86.7" y2="86.7" stroke="#FFF" stroke-opacity="0.45" stroke-width="0.8"/>
<line x1="389.2" x2="512.6" y1="62.3" y2="62.3" stroke="#FFF" stroke-opacity="0.45" stroke-width="0.8"/>
<line x1="389.2" x2="512.6" y1="37.9" y2="37.9" stroke="#FFF" stroke-opacity="0.45" stroke-width="0.8"/>
<line x1="412.34" x2="412.34" y1="33.02" y2="140.38" stroke="#FFF" stroke-opacity="0.45" stroke-width="0.8"/>
<line x1="450.9" x2="450.9" y1="33.02" y2="140.38" stroke="#FFF" stroke-opacity="0.45" stroke-width="0.8"/>
<line x1="489.46" x2="489.46" y1="33.02" y2="140.38" stroke="#FFF" stroke-opacity="0.45" stroke-width="0.8"/>
<text x="412.34" y="39.63" font-size="4.8" text-anchor="middle" fill="#626262">0.1%</text>
<text x="412.34" y="51.34" font-size="4.8" text-anchor="middle" fill="#626262">23.4%</text>
<text x="412.34" y="100.04" font-size="4.8" text-anchor="middle" fill="#626262">76.2%</text>
<text x="450.9" y="51.83" font-size="4.8" text-anchor="middle" fill="#626262">0.6%</text>
<text x="450.9" y="94.77" font-size="4.8" text-anchor="middle" fill="#626262">87.1%</text>
<text x="489.46" y="49.1" font-size="4.8" text-anchor="middle" fill="#626262">19.3%</text>
<text x="489.46" y="97.9" font-size="4.8" text-anchor="middle" fill="#626262">80.6%</text>
<path d="M389.2,33.02 V140.38 H512.6" fill="none" stroke="#333" stroke-width="1.8"/>
<line x1="386" x2="389.2" y1="135.5" y2="135.5" stroke="#333" stroke-width="1"/>
<text x="383" y="137.8" font-size="6.4" text-anchor="end" fill="#333" stroke="#333" stroke-width="0.18">0.00</text>
<line x1="386" x2="389.2" y1="111.1" y2="111.1" stroke="#333" stroke-width="1"/>
<text x="383" y="113.4" font-size="6.4" text-anchor="end" fill="#333" stroke="#333" stroke-width="0.18">0.25</text>
<line x1="386" x2="389.2" y1="86.7" y2="86.7" stroke="#333" stroke-width="1"/>
<text x="383" y="89" font-size="6.4" text-anchor="end" fill="#333" stroke="#333" stroke-width="0.18">0.50</text>
<line x1="386" x2="389.2" y1="62.3" y2="62.3" stroke="#333" stroke-width="1"/>
<text x="383" y="64.6" font-size="6.4" text-anchor="end" fill="#333" stroke="#333" stroke-width="0.18">0.75</text>
<line x1="386" x2="389.2" y1="37.9" y2="37.9" stroke="#333" stroke-width="1"/>
<text x="383" y="40.2" font-size="6.4" text-anchor="end" fill="#333" stroke="#333" stroke-width="0.18">1.00</text>
<line x1="412.34" x2="412.34" y1="140.38" y2="143.58" stroke="#333" stroke-width="1"/>
<text x="412.34" y="152.58" font-size="7" text-anchor="middle" fill="#2A2A2A" stroke="#2A2A2A" stroke-width="0.15">OG1</text>
<line x1="450.9" x2="450.9" y1="140.38" y2="143.58" stroke="#333" stroke-width="1"/>
<text x="450.9" y="152.58" font-size="7" text-anchor="middle" fill="#2A2A2A" stroke="#2A2A2A" stroke-width="0.15">OG2</text>
<line x1="489.46" x2="489.46" y1="140.38" y2="143.58" stroke="#333" stroke-width="1"/>
<text x="489.46" y="152.58" font-size="7" text-anchor="middle" fill="#2A2A2A" stroke="#2A2A2A" stroke-width="0.15">OG3</text>
<text transform="translate(365.1,86.7) rotate(-90) scale(0.70,1)" font-size="8.5" text-anchor="middle" fill="#1A1A1A" stroke="#1A1A1A" stroke-width="0.3">Fraction of alternate alleles</text>
<rect x="224.7" y="202.03" width="123.4" height="100.65" fill="#EBEBEB"/>
<path d="M247.84,209.99 C259.41,209.99 274.83,252.35 286.4,252.35 L286.4,289.59 C274.83,289.59 259.41,298.1 247.84,298.1 Z" fill="#E0DAE6" stroke="#9A93A0" stroke-width="0.45" stroke-dasharray="1.2,0.8"/>
<path d="M286.4,252.35 C297.97,252.35 313.39,219.14 324.96,219.14 L324.96,239.08 C313.39,239.08 297.97,289.59 286.4,289.59 Z" fill="#E0DAE6" stroke="#9A93A0" stroke-width="0.45" stroke-dasharray="1.2,0.8"/>
<path d="M247.84,209.99 C259.41,209.99 274.83,289.59 286.4,289.59 L286.4,298.1 C274.83,298.1 259.41,209.99 247.84,209.99 Z" fill="#FFE873" fill-opacity="0.55" stroke="#E6D580" stroke-width="0.4"/>
<path d="M286.4,289.59 C297.97,289.59 313.39,219.14 324.96,219.14 L324.96,219.14 C313.39,219.14 297.97,298.1 286.4,298.1 Z" fill="#FFE873" fill-opacity="0.55" stroke="#E6D580" stroke-width="0.4"/>
<path d="M247.84,209.99 C259.41,209.99 274.83,219.59 286.4,219.59 L286.4,236.52 C274.83,236.52 259.41,209.99 247.84,209.99 Z" fill="#8DD3C7" fill-opacity="0.55" stroke="#6E8C86" stroke-width="0.4"/>
<path d="M286.4,219.59 C297.97,219.59 313.39,280.17 324.96,280.17 L324.96,288.58 C313.39,288.58 297.97,236.52 286.4,236.52 Z" fill="#8DD3C7" fill-opacity="0.55" stroke="#6E8C86" stroke-width="0.4"/>
<path d="M247.84,209.99 C259.41,209.99 274.83,236.52 286.4,236.52 L286.4,252.35 C274.83,252.35 259.41,209.99 247.84,209.99 Z" fill="#F78B8D" fill-opacity="0.5" stroke="#A07070" stroke-width="0.4" stroke-dasharray="1.2,0.8"/>
<path d="M286.4,236.52 C297.97,236.52 313.39,288.58 324.96,288.58 L324.96,298.1 C313.39,298.1 297.97,252.35 286.4,252.35 Z" fill="#F78B8D" fill-opacity="0.5" stroke="#A07070" stroke-width="0.4" stroke-dasharray="1.2,0.8"/>
<path d="M286.4,219.59 C297.97,219.59 313.39,239.08 324.96,239.08 L324.96,280.17 C313.39,280.17 297.97,219.59 286.4,219.59 Z" fill="#E2D05A" fill-opacity="0.5" stroke="#8E8660" stroke-width="0.4" stroke-dasharray="1.2,0.8"/>
<line x1="247.84" x2="247.84" y1="298.1" y2="209.99" stroke="#9A93A0" stroke-width="0.5" stroke-dasharray="1,1"/>
<line x1="286.4" x2="286.4" y1="298.1" y2="219.59" stroke="#8A8A8A" stroke-width="0.45"/>
<line x1="324.96" x2="324.96" y1="298.1" y2="219.14" stroke="#9A93A0" stroke-width="0.5" stroke-dasharray="1,1"/>
<line x1="224.7" x2="348.1" y1="286.66" y2="286.66" stroke="#FFF" stroke-opacity="0.25" stroke-width="0.5"/>
<line x1="224.7" x2="348.1" y1="263.79" y2="263.79" stroke="#FFF" stroke-opacity="0.25" stroke-width="0.5"/>
<line x1="224.7" x2="348.1" y1="240.91" y2="240.91" stroke="#FFF" stroke-opacity="0.25" stroke-width="0.5"/>
<line x1="224.7" x2="348.1" y1="218.04" y2="218.04" stroke="#FFF" stroke-opacity="0.25" stroke-width="0.5"/>
<line x1="224.7" x2="348.1" y1="298.1" y2="298.1" stroke="#FFF" stroke-opacity="0.45" stroke-width="0.8"/>
<line x1="224.7" x2="348.1" y1="275.23" y2="275.23" stroke="#FFF" stroke-opacity="0.45" stroke-width="0.8"/>
<line x1="224.7" x2="348.1" y1="252.35" y2="252.35" stroke="#FFF" stroke-opacity="0.45" stroke-width="0.8"/>
<line x1="224.7" x2="348.1" y1="229.47" y2="229.47" stroke="#FFF" stroke-opacity="0.45" stroke-width="0.8"/>
<line x1="224.7" x2="348.1" y1="206.6" y2="206.6" stroke="#FFF" stroke-opacity="0.45" stroke-width="0.8"/>
<line x1="247.84" x2="247.84" y1="202.03" y2="302.68" stroke="#FFF" stroke-opacity="0.45" stroke-width="0.8"/>
<line x1="286.4" x2="286.4" y1="202.03" y2="302.68" stroke="#FFF" stroke-opacity="0.45" stroke-width="0.8"/>
<line x1="324.96" x2="324.96" y1="202.03" y2="302.68" stroke="#FFF" stroke-opacity="0.45" stroke-width="0.8"/>
<text x="247.84" y="211.71" font-size="4.8" text-anchor="middle" fill="#626262">0.2%</text>
<text x="247.84" y="255.82" font-size="4.8" text-anchor="middle" fill="#626262">96%</text>
<text x="286.4" y="229.83" font-size="4.8" text-anchor="middle" fill="#626262">17.3%</text>
<text x="286.4" y="246.12" font-size="4.8" text-anchor="middle" fill="#626262">17.8%</text>
<text x="286.4" y="272.65" font-size="4.8" text-anchor="middle" fill="#626262">40.2%</text>
<text x="286.4" y="295.62" font-size="4.8" text-anchor="middle" fill="#626262">9.3%</text>
<text x="324.96" y="230.84" font-size="4.8" text-anchor="middle" fill="#626262">22%</text>
<text x="324.96" y="261.4" font-size="4.8" text-anchor="middle" fill="#626262">44.9%</text>
<text x="324.96" y="291.14" font-size="4.8" text-anchor="middle" fill="#626262">9.8%</text>
<path d="M224.7,202.03 V302.68 H348.1" fill="none" stroke="#333" stroke-width="1.8"/>
<line x1="221.5" x2="224.7" y1="298.1" y2="298.1" stroke="#333" stroke-width="1"/>
<text x="218.5" y="300.4" font-size="6.4" text-anchor="end" fill="#333" stroke="#333" stroke-width="0.18">0.00</text>
<line x1="221.5" x2="224.7" y1="275.23" y2="275.23" stroke="#333" stroke-width="1"/>
<text x="218.5" y="277.53" font-size="6.4" text-anchor="end" fill="#333" stroke="#333" stroke-width="0.18">0.25</text>
<line x1="221.5" x2="224.7" y1="252.35" y2="252.35" stroke="#333" stroke-width="1"/>
<text x="218.5" y="254.65" font-size="6.4" text-anchor="end" fill="#333" stroke="#333" stroke-width="0.18">0.50</text>
<line x1="221.5" x2="224.7" y1="229.47" y2="229.47" stroke="#333" stroke-width="1"/>
<text x="218.5" y="231.78" font-size="6.4" text-anchor="end" fill="#333" stroke="#333" stroke-width="0.18">0.75</text>
<line x1="221.5" x2="224.7" y1="206.6" y2="206.6" stroke="#333" stroke-width="1"/>
<text x="218.5" y="208.9" font-size="6.4" text-anchor="end" fill="#333" stroke="#333" stroke-width="0.18">1.00</text>
<line x1="247.84" x2="247.84" y1="302.68" y2="305.88" stroke="#333" stroke-width="1"/>
<text x="247.84" y="314.88" font-size="7" text-anchor="middle" fill="#2A2A2A" stroke="#2A2A2A" stroke-width="0.15">OG1</text>
<line x1="286.4" x2="286.4" y1="302.68" y2="305.88" stroke="#333" stroke-width="1"/>
<text x="286.4" y="314.88" font-size="7" text-anchor="middle" fill="#2A2A2A" stroke="#2A2A2A" stroke-width="0.15">OG2</text>
<line x1="324.96" x2="324.96" y1="302.68" y2="305.88" stroke="#333" stroke-width="1"/>
<text x="324.96" y="314.88" font-size="7" text-anchor="middle" fill="#2A2A2A" stroke="#2A2A2A" stroke-width="0.15">OG3</text>
<text transform="translate(200.6,252.35) rotate(-90) scale(0.70,1)" font-size="8.5" text-anchor="middle" fill="#1A1A1A" stroke="#1A1A1A" stroke-width="0.3">Fraction of alternate alleles</text>
<rect x="224.7" y="371.65" width="123.4" height="102.41" fill="#EBEBEB"/>
<path d="M247.84,420.99 C259.41,420.99 274.83,394.92 286.4,394.92 L286.4,425.46 C274.83,425.46 259.41,469.4 247.84,469.4 Z" fill="#DCCB72" fill-opacity="0.55" stroke="#A09868" stroke-width="0.4" stroke-dasharray="1.2,0.8"/>
<path d="M286.4,394.92 C297.97,394.92 313.39,389.99 324.96,389.99 L324.96,414.47 C313.39,414.47 297.97,425.46 286.4,425.46 Z" fill="#DCCB72" fill-opacity="0.55" stroke="#A09868" stroke-width="0.4" stroke-dasharray="1.2,0.8"/>
<path d="M247.84,391.2 C259.41,391.2 274.83,382.82 286.4,382.82 L286.4,394.92 C274.83,394.92 259.41,391.2 247.84,391.2 Z" fill="#F78B8D" fill-opacity="0.5" stroke="#A07070" stroke-width="0.4"/>
<path d="M286.4,382.82 C297.97,382.82 313.39,461.95 324.96,461.95 L324.96,469.4 C313.39,469.4 297.97,394.92 286.4,394.92 Z" fill="#F78B8D" fill-opacity="0.5" stroke="#A07070" stroke-width="0.4"/>
<path d="M247.84,391.2 C259.41,391.2 274.83,382.82 286.4,382.82 L286.4,382.82 C274.83,382.82 259.41,420.99 247.84,420.99 Z" fill="#CDBFDB" fill-opacity="0.5" stroke="#8A8094" stroke-width="0.45" stroke-dasharray="1.2,0.8"/>
<path d="M286.4,382.82 C297.97,382.82 313.39,389.99 324.96,389.99 L324.96,389.99 C313.39,389.99 297.97,382.82 286.4,382.82 Z" fill="#CDBFDB" fill-opacity="0.5" stroke="#8A8094" stroke-width="0.45" stroke-dasharray="1.2,0.8"/>
<path d="M247.84,391.2 C259.41,391.2 274.83,425.46 286.4,425.46 L286.4,469.4 C274.83,469.4 259.41,391.2 247.84,391.2 Z" fill="#FFE873" fill-opacity="0.5" stroke="#D6C878" stroke-width="0.4"/>
<path d="M286.4,425.46 C297.97,425.46 313.39,389.99 324.96,389.99 L324.96,389.99 C313.39,389.99 297.97,469.4 286.4,469.4 Z" fill="#FFE873" fill-opacity="0.5" stroke="#D6C878" stroke-width="0.4"/>
<path d="M286.4,382.82 C297.97,382.82 313.39,414.47 324.96,414.47 L324.96,461.95 C313.39,461.95 297.97,382.82 286.4,382.82 Z" fill="#8DD3C7" fill-opacity="0.52" stroke="#6E8C86" stroke-width="0.4"/>
<line x1="247.84" x2="247.84" y1="469.4" y2="391.2" stroke="#9A93A0" stroke-width="0.5" stroke-dasharray="1,1"/>
<line x1="286.4" x2="286.4" y1="469.4" y2="382.82" stroke="#888" stroke-width="0.5"/>
<line x1="324.96" x2="324.96" y1="469.4" y2="389.99" stroke="#9A93A0" stroke-width="0.5" stroke-dasharray="1,1"/>
<line x1="224.7" x2="348.1" y1="457.76" y2="457.76" stroke="#FFF" stroke-opacity="0.25" stroke-width="0.5"/>
<line x1="224.7" x2="348.1" y1="434.49" y2="434.49" stroke="#FFF" stroke-opacity="0.25" stroke-width="0.5"/>
<line x1="224.7" x2="348.1" y1="411.21" y2="411.21" stroke="#FFF" stroke-opacity="0.25" stroke-width="0.5"/>
<line x1="224.7" x2="348.1" y1="387.94" y2="387.94" stroke="#FFF" stroke-opacity="0.25" stroke-width="0.5"/>
<line x1="224.7" x2="348.1" y1="469.4" y2="469.4" stroke="#FFF" stroke-opacity="0.45" stroke-width="0.8"/>
<line x1="224.7" x2="348.1" y1="446.12" y2="446.12" stroke="#FFF" stroke-opacity="0.45" stroke-width="0.8"/>
<line x1="224.7" x2="348.1" y1="422.85" y2="422.85" stroke="#FFF" stroke-opacity="0.45" stroke-width="0.8"/>
<line x1="224.7" x2="348.1" y1="399.57" y2="399.57" stroke="#FFF" stroke-opacity="0.45" stroke-width="0.8"/>
<line x1="224.7" x2="348.1" y1="376.3" y2="376.3" stroke="#FFF" stroke-opacity="0.45" stroke-width="0.8"/>
<line x1="247.84" x2="247.84" y1="371.65" y2="474.05" stroke="#FFF" stroke-opacity="0.45" stroke-width="0.8"/>
<line x1="286.4" x2="286.4" y1="371.65" y2="474.05" stroke="#FFF" stroke-opacity="0.45" stroke-width="0.8"/>
<line x1="324.96" x2="324.96" y1="371.65" y2="474.05" stroke="#FFF" stroke-opacity="0.45" stroke-width="0.8"/>
<text x="247.84" y="407.82" font-size="4.8" text-anchor="middle" fill="#626262">31.8%</text>
<text x="247.84" y="446.92" font-size="4.8" text-anchor="middle" fill="#626262">52.1%</text>
<text x="286.4" y="390.6" font-size="4.8" text-anchor="middle" fill="#626262">12.6%</text>
<text x="286.4" y="411.92" font-size="4.8" text-anchor="middle" fill="#626262">32.1%</text>
<text x="286.4" y="449.16" font-size="4.8" text-anchor="middle" fill="#626262">47.5%</text>
<text x="324.96" y="404.1" font-size="4.8" text-anchor="middle" fill="#626262">25.8%</text>
<text x="324.96" y="439.94" font-size="4.8" text-anchor="middle" fill="#626262">50.8%</text>
<text x="324.96" y="467.4" font-size="4.8" text-anchor="middle" fill="#626262">8%</text>
<path d="M224.7,371.65 V474.05 H348.1" fill="none" stroke="#333" stroke-width="1.8"/>
<line x1="221.5" x2="224.7" y1="469.4" y2="469.4" stroke="#333" stroke-width="1"/>
<text x="218.5" y="471.7" font-size="6.4" text-anchor="end" fill="#333" stroke="#333" stroke-width="0.18">0.00</text>
<line x1="221.5" x2="224.7" y1="446.12" y2="446.12" stroke="#333" stroke-width="1"/>
<text x="218.5" y="448.43" font-size="6.4" text-anchor="end" fill="#333" stroke="#333" stroke-width="0.18">0.25</text>
<line x1="221.5" x2="224.7" y1="422.85" y2="422.85" stroke="#333" stroke-width="1"/>
<text x="218.5" y="425.15" font-size="6.4" text-anchor="end" fill="#333" stroke="#333" stroke-width="0.18">0.50</text>
<line x1="221.5" x2="224.7" y1="399.57" y2="399.57" stroke="#333" stroke-width="1"/>
<text x="218.5" y="401.88" font-size="6.4" text-anchor="end" fill="#333" stroke="#333" stroke-width="0.18">0.75</text>
<line x1="221.5" x2="224.7" y1="376.3" y2="376.3" stroke="#333" stroke-width="1"/>
<text x="218.5" y="378.6" font-size="6.4" text-anchor="end" fill="#333" stroke="#333" stroke-width="0.18">1.00</text>
<line x1="247.84" x2="247.84" y1="474.05" y2="477.25" stroke="#333" stroke-width="1"/>
<text x="247.84" y="486.25" font-size="7" text-anchor="middle" fill="#2A2A2A" stroke="#2A2A2A" stroke-width="0.15">OG1</text>
<line x1="286.4" x2="286.4" y1="474.05" y2="477.25" stroke="#333" stroke-width="1"/>
<text x="286.4" y="486.25" font-size="7" text-anchor="middle" fill="#2A2A2A" stroke="#2A2A2A" stroke-width="0.15">OG2</text>
<line x1="324.96" x2="324.96" y1="474.05" y2="477.25" stroke="#333" stroke-width="1"/>
<text x="324.96" y="486.25" font-size="7" text-anchor="middle" fill="#2A2A2A" stroke="#2A2A2A" stroke-width="0.15">OG3</text>
<text transform="translate(200.6,422.85) rotate(-90) scale(0.70,1)" font-size="8.5" text-anchor="middle" fill="#1A1A1A" stroke="#1A1A1A" stroke-width="0.3">Fraction of alternate alleles</text>
<rect x="389.2" y="198.13" width="123.4" height="104.94" fill="#EBEBEB"/>
<path d="M412.34,206.24 C423.91,206.24 439.33,260.04 450.9,260.04 L450.9,298.3 C439.33,298.3 423.91,298.3 412.34,298.3 Z" fill="#BADFD8" stroke="#889E99" stroke-width="0.5"/>
<path d="M450.9,260.04 C462.47,260.04 477.89,277.03 489.46,277.03 L489.46,298.3 C477.89,298.3 462.47,298.3 450.9,298.3 Z" fill="#BADFD8" stroke="#889E99" stroke-width="0.5"/>
<line x1="450.9" x2="450.9" y1="298.3" y2="260.04" stroke="#6F8A85" stroke-width="1.0"/>
<line x1="389.2" x2="512.6" y1="286.38" y2="286.38" stroke="#FFF" stroke-opacity="0.25" stroke-width="0.5"/>
<line x1="389.2" x2="512.6" y1="262.52" y2="262.52" stroke="#FFF" stroke-opacity="0.25" stroke-width="0.5"/>
<line x1="389.2" x2="512.6" y1="238.68" y2="238.68" stroke="#FFF" stroke-opacity="0.25" stroke-width="0.5"/>
<line x1="389.2" x2="512.6" y1="214.82" y2="214.82" stroke="#FFF" stroke-opacity="0.25" stroke-width="0.5"/>
<line x1="389.2" x2="512.6" y1="298.3" y2="298.3" stroke="#FFF" stroke-opacity="0.45" stroke-width="0.8"/>
<line x1="389.2" x2="512.6" y1="274.45" y2="274.45" stroke="#FFF" stroke-opacity="0.45" stroke-width="0.8"/>
<line x1="389.2" x2="512.6" y1="250.6" y2="250.6" stroke="#FFF" stroke-opacity="0.45" stroke-width="0.8"/>
<line x1="389.2" x2="512.6" y1="226.75" y2="226.75" stroke="#FFF" stroke-opacity="0.45" stroke-width="0.8"/>
<line x1="389.2" x2="512.6" y1="202.9" y2="202.9" stroke="#FFF" stroke-opacity="0.45" stroke-width="0.8"/>
<line x1="412.34" x2="412.34" y1="198.13" y2="303.07" stroke="#FFF" stroke-opacity="0.45" stroke-width="0.8"/>
<line x1="450.9" x2="450.9" y1="198.13" y2="303.07" stroke="#FFF" stroke-opacity="0.45" stroke-width="0.8"/>
<line x1="489.46" x2="489.46" y1="198.13" y2="303.07" stroke="#FFF" stroke-opacity="0.45" stroke-width="0.8"/>
<text x="412.34" y="254.05" font-size="4.8" text-anchor="middle" fill="#626262">96%</text>
<text x="450.9" y="280.95" font-size="4.8" text-anchor="middle" fill="#626262">40.2%</text>
<text x="489.46" y="289.53" font-size="4.8" text-anchor="middle" fill="#626262">22%</text>
<path d="M389.2,198.13 V303.07 H512.6" fill="none" stroke="#333" stroke-width="1.8"/>
<line x1="386" x2="389.2" y1="298.3" y2="298.3" stroke="#333" stroke-width="1"/>
<text x="383" y="300.6" font-size="6.4" text-anchor="end" fill="#333" stroke="#333" stroke-width="0.18">0.00</text>
<line x1="386" x2="389.2" y1="274.45" y2="274.45" stroke="#333" stroke-width="1"/>
<text x="383" y="276.75" font-size="6.4" text-anchor="end" fill="#333" stroke="#333" stroke-width="0.18">0.25</text>
<line x1="386" x2="389.2" y1="250.6" y2="250.6" stroke="#333" stroke-width="1"/>
<text x="383" y="252.9" font-size="6.4" text-anchor="end" fill="#333" stroke="#333" stroke-width="0.18">0.50</text>
<line x1="386" x2="389.2" y1="226.75" y2="226.75" stroke="#333" stroke-width="1"/>
<text x="383" y="229.05" font-size="6.4" text-anchor="end" fill="#333" stroke="#333" stroke-width="0.18">0.75</text>
<line x1="386" x2="389.2" y1="202.9" y2="202.9" stroke="#333" stroke-width="1"/>
<text x="383" y="205.2" font-size="6.4" text-anchor="end" fill="#333" stroke="#333" stroke-width="0.18">1.00</text>
<line x1="412.34" x2="412.34" y1="303.07" y2="306.27" stroke="#333" stroke-width="1"/>
<text x="412.34" y="315.27" font-size="7" text-anchor="middle" fill="#2A2A2A" stroke="#2A2A2A" stroke-width="0.15">OG1</text>
<line x1="450.9" x2="450.9" y1="303.07" y2="306.27" stroke="#333" stroke-width="1"/>
<text x="450.9" y="315.27" font-size="7" text-anchor="middle" fill="#2A2A2A" stroke="#2A2A2A" stroke-width="0.15">OG2</text>
<line x1="489.46" x2="489.46" y1="303.07" y2="306.27" stroke="#333" stroke-width="1"/>
<text x="489.46" y="315.27" font-size="7" text-anchor="middle" fill="#2A2A2A" stroke="#2A2A2A" stroke-width="0.15">OG3</text>
<text transform="translate(365.1,250.6) rotate(-90) scale(0.70,1)" font-size="8.5" text-anchor="middle" fill="#1A1A1A" stroke="#1A1A1A" stroke-width="0.3">Fraction of alternate alleles</text>
<rect x="389.2" y="369.65" width="123.4" height="104.5" fill="#EBEBEB"/>
<path d="M450.9,469.4 C462.47,469.4 477.89,421.14 489.46,421.14 L489.46,469.4 C477.89,469.4 462.47,469.4 450.9,469.4 Z" fill="#BADFD8" stroke="#889E99" stroke-width="0.5"/>
<path d="M412.34,469.4 C423.91,469.4 439.33,469.4 450.9,469.4" fill="none" stroke="#9AA8A5" stroke-width="0.6"/>
<line x1="389.2" x2="512.6" y1="457.52" y2="457.52" stroke="#FFF" stroke-opacity="0.25" stroke-width="0.5"/>
<line x1="389.2" x2="512.6" y1="433.77" y2="433.77" stroke="#FFF" stroke-opacity="0.25" stroke-width="0.5"/>
<line x1="389.2" x2="512.6" y1="410.02" y2="410.02" stroke="#FFF" stroke-opacity="0.25" stroke-width="0.5"/>
<line x1="389.2" x2="512.6" y1="386.27" y2="386.27" stroke="#FFF" stroke-opacity="0.25" stroke-width="0.5"/>
<line x1="389.2" x2="512.6" y1="469.4" y2="469.4" stroke="#FFF" stroke-opacity="0.45" stroke-width="0.8"/>
<line x1="389.2" x2="512.6" y1="445.65" y2="445.65" stroke="#FFF" stroke-opacity="0.45" stroke-width="0.8"/>
<line x1="389.2" x2="512.6" y1="421.9" y2="421.9" stroke="#FFF" stroke-opacity="0.45" stroke-width="0.8"/>
<line x1="389.2" x2="512.6" y1="398.15" y2="398.15" stroke="#FFF" stroke-opacity="0.45" stroke-width="0.8"/>
<line x1="389.2" x2="512.6" y1="374.4" y2="374.4" stroke="#FFF" stroke-opacity="0.45" stroke-width="0.8"/>
<line x1="412.34" x2="412.34" y1="369.65" y2="474.15" stroke="#FFF" stroke-opacity="0.45" stroke-width="0.8"/>
<line x1="450.9" x2="450.9" y1="369.65" y2="474.15" stroke="#FFF" stroke-opacity="0.45" stroke-width="0.8"/>
<line x1="489.46" x2="489.46" y1="369.65" y2="474.15" stroke="#FFF" stroke-opacity="0.45" stroke-width="0.8"/>
<text x="489.46" y="447" font-size="4.8" text-anchor="middle" fill="#626262">50.8%</text>
<path d="M389.2,369.65 V474.15 H512.6" fill="none" stroke="#333" stroke-width="1.8"/>
<line x1="386" x2="389.2" y1="469.4" y2="469.4" stroke="#333" stroke-width="1"/>
<text x="383" y="471.7" font-size="6.4" text-anchor="end" fill="#333" stroke="#333" stroke-width="0.18">0.00</text>
<line x1="386" x2="389.2" y1="445.65" y2="445.65" stroke="#333" stroke-width="1"/>
<text x="383" y="447.95" font-size="6.4" text-anchor="end" fill="#333" stroke="#333" stroke-width="0.18">0.25</text>
<line x1="386" x2="389.2" y1="421.9" y2="421.9" stroke="#333" stroke-width="1"/>
<text x="383" y="424.2" font-size="6.4" text-anchor="end" fill="#333" stroke="#333" stroke-width="0.18">0.50</text>
<line x1="386" x2="389.2" y1="398.15" y2="398.15" stroke="#333" stroke-width="1"/>
<text x="383" y="400.45" font-size="6.4" text-anchor="end" fill="#333" stroke="#333" stroke-width="0.18">0.75</text>
<line x1="386" x2="389.2" y1="374.4" y2="374.4" stroke="#333" stroke-width="1"/>
<text x="383" y="376.7" font-size="6.4" text-anchor="end" fill="#333" stroke="#333" stroke-width="0.18">1.00</text>
<line x1="412.34" x2="412.34" y1="474.15" y2="477.35" stroke="#333" stroke-width="1"/>
<text x="412.34" y="486.35" font-size="7" text-anchor="middle" fill="#2A2A2A" stroke="#2A2A2A" stroke-width="0.15">OG1</text>
<line x1="450.9" x2="450.9" y1="474.15" y2="477.35" stroke="#333" stroke-width="1"/>
<text x="450.9" y="486.35" font-size="7" text-anchor="middle" fill="#2A2A2A" stroke="#2A2A2A" stroke-width="0.15">OG2</text>
<line x1="489.46" x2="489.46" y1="474.15" y2="477.35" stroke="#333" stroke-width="1"/>
<text x="489.46" y="486.35" font-size="7" text-anchor="middle" fill="#2A2A2A" stroke="#2A2A2A" stroke-width="0.15">OG3</text>
<text transform="translate(365.1,421.9) rotate(-90) scale(0.70,1)" font-size="8.5" text-anchor="middle" fill="#1A1A1A" stroke="#1A1A1A" stroke-width="0.3">Fraction of alternate alleles</text>
<text x="223.4" y="168.14" font-size="5.4" fill="#444" stroke="#444" stroke-width="0.1" text-anchor="start">cluster</text>
<rect x="248.1" y="163.7" width="5.2" height="5.2" fill="#CFEEE8" stroke="#555" stroke-width="0.6"/>
<text x="256.3" y="168.24" font-size="5.4" fill="#222" stroke="#222" stroke-width="0.1" text-anchor="start">1 (JAK2...NACA)</text>
<rect x="300.4" y="163.7" width="5.2" height="5.2" fill="#FAF2C4" stroke="#AAA" stroke-width="0.6"/>
<text x="308.4" y="168.24" font-size="5.4" fill="#222" stroke="#222" stroke-width="0.1" text-anchor="start">2 (ERBB2;RB1)</text>
<text x="408.2" y="172.84" font-size="5.4" fill="#444" stroke="#444" stroke-width="0.1" text-anchor="start">cluster</text>
<rect x="433.4" y="163" width="5.2" height="5.2" fill="#CFEEE8" stroke="#555" stroke-width="0.6"/>
<text x="441.3" y="167.54" font-size="5.4" fill="#222" stroke="#222" stroke-width="0.1" text-anchor="start">1 (JAK2)</text>
<rect x="467.1" y="163" width="5.2" height="5.2" fill="#F6EFC8" stroke="#555" stroke-width="0.6" stroke-dasharray="1,0.8"/>
<text x="475" y="167.54" font-size="5.4" fill="#222" stroke="#222" stroke-width="0.1" text-anchor="start">2 (ERBB2)</text>
<rect x="433.4" y="172.6" width="5.2" height="5.2" fill="#FAF2C4" stroke="#AAA" stroke-width="0.6"/>
<text x="441.3" y="177.24" font-size="5.4" fill="#222" stroke="#222" stroke-width="0.1" text-anchor="start">4 (TYRO3)</text>
<text x="231.6" y="339.54" font-size="5.4" fill="#444" stroke="#444" stroke-width="0.1" text-anchor="start">cluster</text>
<rect x="250.1" y="326.2" width="5.2" height="5.2" fill="#CFEEE8" stroke="#555" stroke-width="0.6"/>
<text x="258.3" y="330.74" font-size="5.4" fill="#222" stroke="#222" stroke-width="0.1" text-anchor="start">11 (IKZF1)</text>
<rect x="290.3" y="326.2" width="5.2" height="5.2" fill="#F6CFCF" stroke="#AAA" stroke-width="0.6"/>
<text x="298.6" y="330.74" font-size="5.4" fill="#222" stroke="#222" stroke-width="0.1" text-anchor="start">12 (CDK12)</text>
<rect x="250.1" y="335.1" width="5.2" height="5.2" fill="#F4EBB8" stroke="#555" stroke-width="0.6" stroke-dasharray="1,0.8"/>
<text x="258.3" y="339.64" font-size="5.4" fill="#222" stroke="#222" stroke-width="0.1" text-anchor="start">13 (TP53)</text>
<rect x="290.3" y="335.1" width="5.2" height="5.2" fill="#F2EEF4" stroke="#555" stroke-width="0.6" stroke-dasharray="1,0.8"/>
<text x="298.6" y="338.94" font-size="5.4" fill="#222" stroke="#222" stroke-width="0.1" text-anchor="start">2 (FBXW7;KRAS;</text>
<text x="298.6" y="345.14" font-size="5.4" fill="#222" stroke="#222" stroke-width="0.1" text-anchor="start">NOTCH1)</text>
<rect x="250.1" y="344" width="5.2" height="5.2" fill="#FAF2C4" stroke="#AAA" stroke-width="0.6"/>
<text x="258.3" y="348.54" font-size="5.4" fill="#222" stroke="#222" stroke-width="0.1" text-anchor="start">9 (CDH11)</text>
<text x="228" y="511.54" font-size="5.4" fill="#444" stroke="#444" stroke-width="0.1" text-anchor="start">cluster</text>
<rect x="252.5" y="498" width="5.2" height="5.2" fill="#CFEEE8" stroke="#555" stroke-width="0.6"/>
<text x="260.7" y="502.54" font-size="5.4" fill="#222" stroke="#222" stroke-width="0.1" text-anchor="start">10 (KDR;TP53)</text>
<rect x="303.8" y="498" width="5.2" height="5.2" fill="#F6CFCF" stroke="#AAA" stroke-width="0.6"/>
<text x="312" y="502.54" font-size="5.4" fill="#222" stroke="#222" stroke-width="0.1" text-anchor="start">11 (NOTCH1)</text>
<rect x="252.5" y="507" width="5.2" height="5.2" fill="#F4EBB8" stroke="#555" stroke-width="0.6" stroke-dasharray="1,0.8"/>
<text x="260.7" y="511.54" font-size="5.4" fill="#222" stroke="#222" stroke-width="0.1" text-anchor="start">2 (WHSC1)</text>
<rect x="303.8" y="507" width="5.2" height="5.2" fill="#F2EEF4" stroke="#555" stroke-width="0.6" stroke-dasharray="1,0.8"/>
<text x="312" y="511.54" font-size="5.4" fill="#222" stroke="#222" stroke-width="0.1" text-anchor="start">5 (NOTCH1)</text>
<rect x="252.5" y="515.8" width="5.2" height="5.2" fill="#FAF2C4" stroke="#AAA" stroke-width="0.6"/>
<text x="260.7" y="520.34" font-size="5.4" fill="#222" stroke="#222" stroke-width="0.1" text-anchor="start">8 (MLL3;WT1)</text>
<text x="423.4" y="330.74" font-size="5.4" fill="#444" stroke="#444" stroke-width="0.1" text-anchor="start">cluster</text>
<rect x="448.2" y="326.2" width="5.2" height="5.2" fill="#CFEEE8" stroke="#555" stroke-width="0.6"/>
<text x="456.1" y="330.74" font-size="5.4" fill="#222" stroke="#222" stroke-width="0.1" text-anchor="start">2 (KRAS)</text>
<text x="423.4" y="502.14" font-size="5.4" fill="#444" stroke="#444" stroke-width="0.1" text-anchor="start">cluster</text>
<rect x="448.2" y="497.6" width="5.2" height="5.2" fill="#CFEEE8" stroke="#555" stroke-width="0.6"/>
<text x="456.1" y="502.14" font-size="5.4" fill="#222" stroke="#222" stroke-width="0.1" text-anchor="start">10 (KDR)</text>
<rect x="0.5" y="0.5" width="519" height="528" fill="none" stroke="#000" stroke-width="1"/>
</svg>
</body></html>
